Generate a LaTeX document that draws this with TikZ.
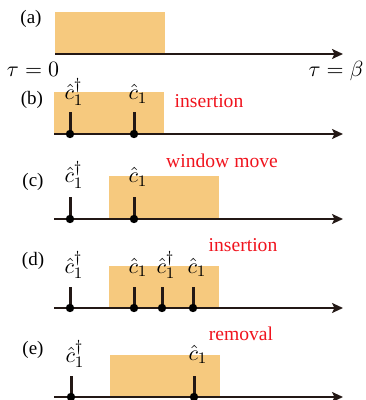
\documentclass[tikz,border=0pt]{standalone}
\usepackage{fontspec}
\setmainfont{Liberation Serif}
\usetikzlibrary{arrows.meta}
\definecolor{win}{HTML}{F6C97E}
\definecolor{axc}{HTML}{231815}
\definecolor{lab}{HTML}{F0141E}
\tikzset{
  win/.style={fill=win, draw=none},
  axis/.style={draw=axc, line width=1pt, -{Stealth[length=5.5pt,width=5pt,inset=1.2pt]}},
  tick/.style={draw=axc, line width=1.5pt},
  dot/.style={circle, fill=black, inner sep=0pt, minimum size=4.2pt},
  op/.style={anchor=base, inner sep=0pt, font=\fontsize{11}{13}\selectfont},
  panel/.style={inner sep=0pt, font=\fontsize{9.5}{11}\selectfont},
  move/.style={inner sep=0pt, text=lab, font=\fontsize{9.8}{11}\selectfont},
  tau/.style={anchor=base, inner sep=0pt, font=\fontsize{11}{13}\selectfont}
}
\begin{document}
\begin{tikzpicture}[x=0.5pt,y=-0.5pt]
\useasboundingbox (0,0) rectangle (365,400);
% ---------- (a)
\fill[win] (55,12) rectangle (165,54);
\coordinate (a0) at (55,54);
\coordinate (a1) at (343,54);
\draw[axis] (a0) -- (a1);
\node[panel] (la) at (31,19) {(a)};
\node[tau] (t0) at (33,77) {$\tau=0$};
\node[tau] (tb) at (336,77) {$\tau=\beta$};
% ---------- (b)
\fill[win] (54,92) rectangle (164,134);
\coordinate (b0) at (54,134);
\coordinate (b1) at (343,134);
\draw[axis] (b0) -- (b1);
\coordinate (bb1) at (70,134);
\coordinate (bb2) at (134,134);
\coordinate (bt1) at (70,112);
\coordinate (bt2) at (134,112);
\draw[tick] (bb1) -- (bt1);
\draw[tick] (bb2) -- (bt2);
\node[dot] (bd1) at (bb1) {};
\node[dot] (bd2) at (bb2) {};
\node[op] (bl1) at (74,100) {$\hat{c}_1^\dagger$};
\node[op] (bl2) at (138,100) {$\hat{c}_1$};
\node[panel] (lb) at (32,100) {(b)};
\node[move] (mb) at (209,101) {insertion};
% ---------- (c)
\fill[win] (109,176) rectangle (219,219);
\coordinate (c0) at (54,219);
\coordinate (c1) at (343,219);
\draw[axis] (c0) -- (c1);
\coordinate (cb1) at (70,219);
\coordinate (cb2) at (134,219);
\coordinate (ct1) at (70,197);
\coordinate (ct2) at (134,197);
\draw[tick] (cb1) -- (ct1);
\draw[tick] (cb2) -- (ct2);
\node[dot] (cd1) at (cb1) {};
\node[dot] (cd2) at (cb2) {};
\node[op] (cl1) at (74,183) {$\hat{c}_1^\dagger$};
\node[op] (cl2) at (138,183) {$\hat{c}_1$};
\node[panel] (lc) at (33,182) {(c)};
\node[move] (mc) at (222,161) {window move};
% ---------- (d)
\fill[win] (109,266) rectangle (219,308);
\coordinate (d0) at (54,308);
\coordinate (d1) at (343,308);
\draw[axis] (d0) -- (d1);
\coordinate (db1) at (70,308);
\coordinate (db2) at (134,308);
\coordinate (db3) at (162,308);
\coordinate (db4) at (193,308);
\coordinate (dt1) at (70,287);
\coordinate (dt2) at (134,287);
\coordinate (dt3) at (162,287);
\coordinate (dt4) at (193,287);
\draw[tick] (db1) -- (dt1);
\draw[tick] (db2) -- (dt2);
\draw[tick] (db3) -- (dt3);
\draw[tick] (db4) -- (dt4);
\node[dot] (dd1) at (db1) {};
\node[dot] (dd2) at (db2) {};
\node[dot] (dd3) at (db3) {};
\node[dot] (dd4) at (db4) {};
\node[op] (dl1) at (74,273) {$\hat{c}_1^\dagger$};
\node[op] (dl2) at (138,273) {$\hat{c}_1$};
\node[op] (dl3) at (166,273) {$\hat{c}_1^\dagger$};
\node[op] (dl4) at (197,273) {$\hat{c}_1$};
\node[panel] (ld) at (33,261) {(d)};
\node[move] (md) at (243,245) {insertion};
% ---------- (e)
\fill[win] (110,355) rectangle (220,397);
\coordinate (e0) at (54,397);
\coordinate (e1) at (343,397);
\draw[axis] (e0) -- (e1);
\coordinate (eb1) at (71,397);
\coordinate (eb2) at (194,397);
\coordinate (et1) at (71,376);
\coordinate (et2) at (194,376);
\draw[tick] (eb1) -- (et1);
\draw[tick] (eb2) -- (et2);
\node[dot] (ed1) at (eb1) {};
\node[dot] (ed2) at (eb2) {};
\node[op] (el1) at (75,362) {$\hat{c}_1^\dagger$};
\node[op] (el2) at (198,360) {$\hat{c}_1$};
\node[panel] (le) at (33,350) {(e)};
\node[move] (me) at (241,334) {removal};
\end{tikzpicture}
\end{document}
